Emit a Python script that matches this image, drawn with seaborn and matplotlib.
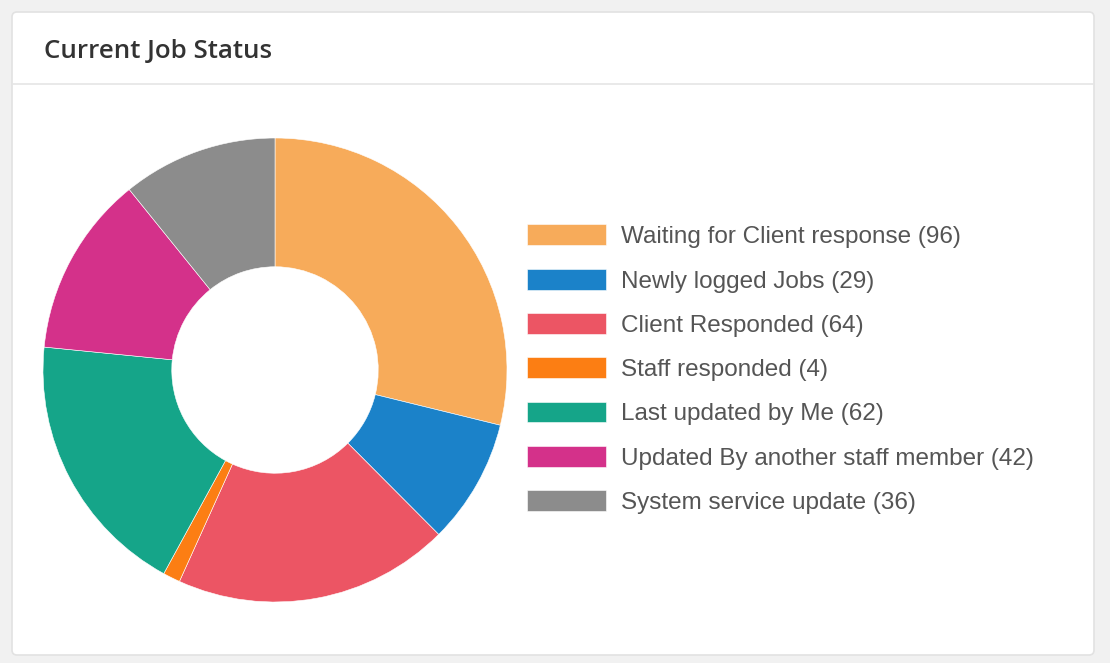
import matplotlib
matplotlib.use("Agg")
import matplotlib.pyplot as plt
from matplotlib.patches import FancyBboxPatch
import seaborn as sns

# ── data ────────────────────────────────────────────────────
statuses = ["Waiting for Client response", "Newly logged Jobs", "Client Responded",
            "Staff responded", "Last updated by Me", "Updated By another staff member",
            "System service update"]
counts = [96, 29, 64, 4, 62, 42, 36]
colours = ["#F7AB5A", "#1B82C9", "#EC5564", "#FC7E13", "#15A589", "#D4318A", "#8C8C8C"]
title = "Current Job Status"

sns.set_theme(style="white")
palette = sns.color_palette(colours)
plt.rcParams["font.family"] = ["Liberation Sans", "DejaVu Sans"]

W, H = 1110, 663
fig = plt.figure(figsize=(W / 100, H / 100), dpi=100)
fig.patch.set_facecolor("#f1f1f1")

# ── card background (pixel coords) ──────────────────────────
bg = fig.add_axes([0, 0, 1, 1])
bg.set_xlim(0, W)
bg.set_ylim(H, 0)
bg.axis("off")
card = FancyBboxPatch((12, 12), 1082, 643, boxstyle="round,pad=0,rounding_size=5",
                      facecolor="white", edgecolor="#e2e2e2", linewidth=1.2)
bg.add_patch(card)
bg.plot([12.5, 1093.5], [83.5, 83.5], color="#e5e5e5", linewidth=1.2)
bg.text(44, 58, title, fontsize=18.6, fontweight=600, color="#333333",
        family=["Open Sans", "DejaVu Sans"], va="baseline", ha="left")

# ── donut ───────────────────────────────────────────────────
cx, cy, r = 275, 370, 232
ax = fig.add_axes([(cx - r) / W, (H - cy - r) / H, 2 * r / W, 2 * r / H])
wedges, _ = ax.pie(counts, colors=palette, startangle=90, counterclock=False,
                   radius=1, wedgeprops=dict(width=0.555, edgecolor="white", linewidth=0.4))
ax.set_xlim(-1, 1)
ax.set_ylim(-1, 1)
ax.set_aspect("equal")
ax.axis("off")

labels = [f"{s} ({c})" for s, c in zip(statuses, counts)]
leg = fig.legend(wedges, labels, loc="upper left",
                 bbox_to_anchor=(527 / W, 1 - 224.5 / H), bbox_transform=fig.transFigure,
                 frameon=False, fontsize=17.5, borderpad=0, borderaxespad=0,
                 handlelength=3.25, handleheight=0.95, handletextpad=0.62, labelspacing=0.84)
for t in leg.get_texts():
    t.set_color("#555555")

plt.savefig("out.png", dpi=100, facecolor=fig.get_facecolor())
